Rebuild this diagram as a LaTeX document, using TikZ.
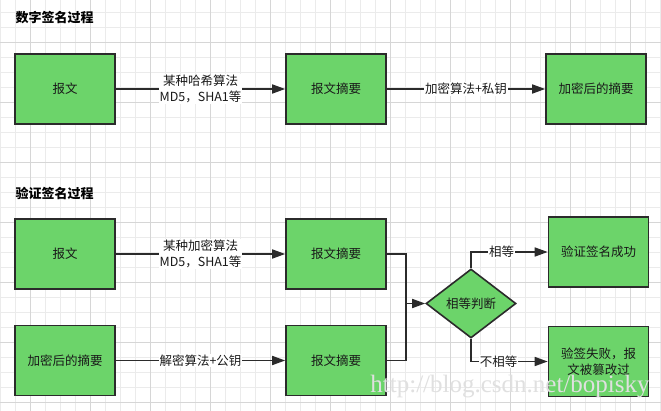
\documentclass[tikz,border=0pt]{standalone}
\usepackage{fontspec}
\setmainfont{Noto Sans CJK SC}
\newfontfamily\wmfont{Liberation Serif}
\usetikzlibrary{shapes.geometric,arrows.meta}
\definecolor{boxgreen}{HTML}{6CD46A}
\definecolor{edgec}{HTML}{2B2B2B}
\definecolor{gridminor}{HTML}{EBEBEB}
\definecolor{gridmajor}{HTML}{D6D6D6}
\begin{document}
\begin{tikzpicture}[x=1pt,y=-1pt,
  txt/.style={font=\fontsize{12.5}{15.5}\selectfont,text=black!90},
  box/.style={txt,draw=edgec,line width=1.6pt,fill=boxgreen,minimum width=100pt,minimum height=70pt,inner sep=0pt,align=center},
  dia/.style={txt,diamond,draw=edgec,line width=1.6pt,fill=boxgreen,minimum width=90pt,minimum height=69pt,inner sep=0pt,aspect=1.3},
  lbl/.style={txt,fill=white,inner sep=1pt,align=center},
  conn/.style={draw=edgec,line width=1.6pt},
  arr/.style={conn,-{Triangle[length=13pt,width=9pt]}},
  title/.style={font=\bfseries\fontsize{13}{15}\selectfont,anchor=west}]
\useasboundingbox (0,0) rectangle (661,411);
\fill[white] (0,0) rectangle (661,411);
% grid
\foreach \x in {0,15,...,660} \draw[gridminor,line width=0.7pt] (\x,0) -- (\x,411);
\foreach \y in {12,27,...,411} \draw[gridminor,line width=0.7pt] (0,\y) -- (661,\y);
\foreach \x in {30,90,...,660} \draw[gridmajor,line width=0.8pt] (\x,0) -- (\x,411);
\foreach \y in {42,102,...,411} \draw[gridmajor,line width=0.8pt] (0,\y) -- (661,\y);

% titles
\node[title] (t1) at (12,18) {数字签名过程};
\node[title] (t2) at (12,193) {验证签名过程};

% row 1
\node[box] (a1) at (65,89) {报文};
\node[box] (a2) at (336,89) {报文摘要};
\node[box] (a3) at (596,89) {加密后的摘要};
\draw[arr] (a1) -- node[lbl]{某种哈希算法\\MD5，SHA1等} (a2);
\draw[arr] (a2) -- node[lbl]{加密算法+私钥} (a3);

% verify
\node[box] (b1) at (65,254) {报文};
\node[box] (b2) at (336,254) {报文摘要};
\node[box] (c1) at (65,360.5) {加密后的摘要};
\node[box] (c2) at (336,360.5) {报文摘要};
\node[dia] (d) at (471,303.5) {相等判断};
\node[box] (s) at (598.5,252) {验证签名成功};
\node[box] (f) at (598.5,361.5) {验签失败，报\\文被篡改过};
\coordinate (j) at (406,303.5);

\draw[arr] (b1) -- node[lbl]{某种加密算法\\MD5，SHA1等} (b2);
\draw[arr] (c1) -- node[lbl]{解密算法+公钥} (c2);
\draw[conn] (b2.east) -| (j);
\draw[conn] (c2.east) -| (j);
\draw[arr] (j) -- (d.west);
\draw[arr] (d.north) |- node[lbl,pos=0.7]{相等} (s.west);
\draw[arr] (d.south) |- node[lbl,pos=0.68]{不相等} (f.west);

% watermark
\node[font=\wmfont\fontsize{25}{25}\selectfont,text=black!12] (wm) at (510,387) {http://blog.csdn.net/bopisky};
\end{tikzpicture}
\end{document}
